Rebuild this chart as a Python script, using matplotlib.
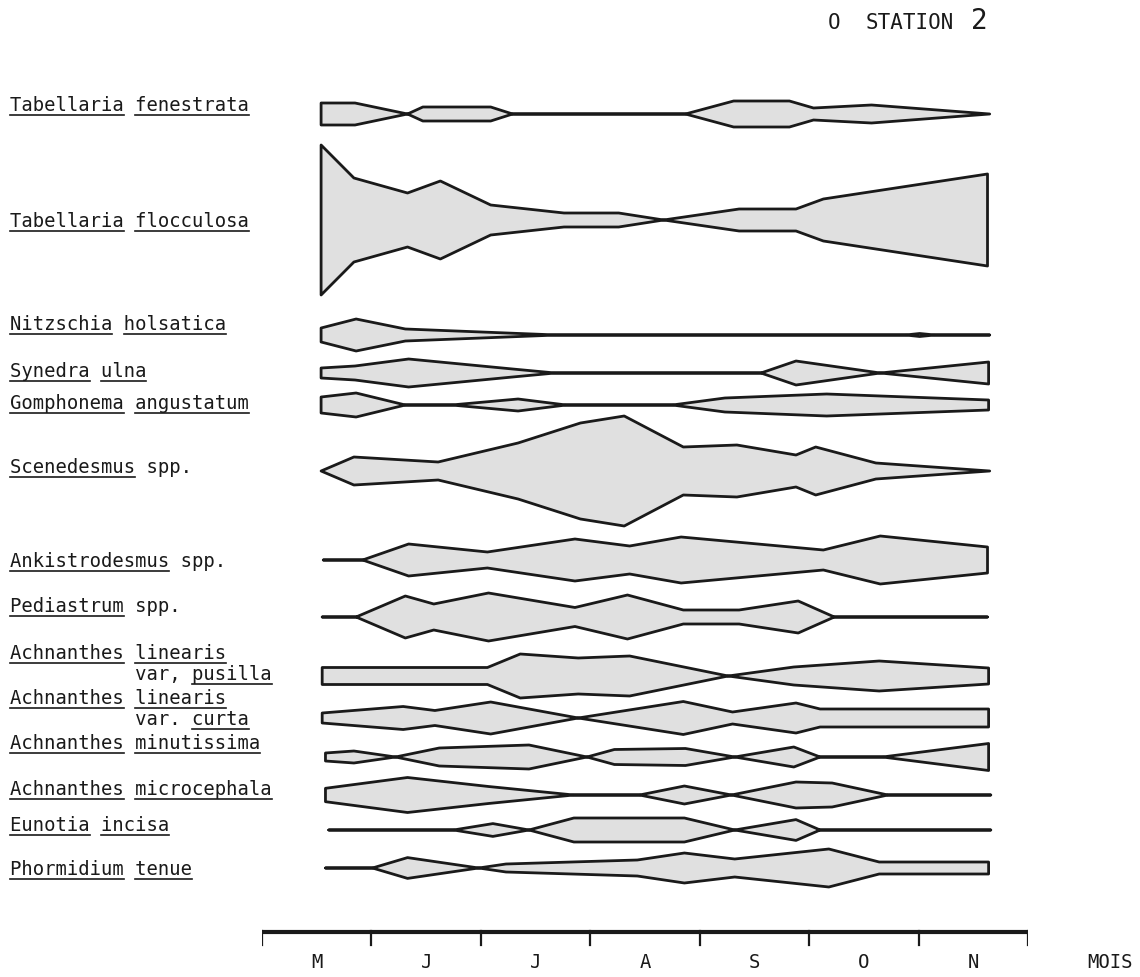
import matplotlib
matplotlib.use("Agg")
import matplotlib.pyplot as plt

# time axis: 0 = 1 May ... 7 = 1 December (months)
month_labels = ["M", "J", "J", "A", "S", "O", "N"]

# kite data: sampling positions (months) and half-widths (relative abundance)
fenestrata_x = [0.54, 0.85, 1.33, 1.47, 2.09, 2.29, 3.87, 4.31, 4.82, 5.04, 5.57, 6.65]
fenestrata_v = [11, 11, 0, 7, 7, 0, 0, 13, 13, 6, 9, 0]

flocculosa_x = [0.54, 0.84, 1.33, 1.63, 2.09, 2.76, 3.26, 3.67, 4.36, 4.88, 5.13, 6.63]
flocculosa_v = [75, 42, 27, 39, 15, 7, 7, 0, 11, 11, 21, 46]

nitzschia_x = [0.54, 0.86, 1.31, 2.70, 5.88, 6.01, 6.15, 6.65]
nitzschia_v = [7, 16, 6, 0, 0, 1.5, 0, 0]

synedra_x = [0.54, 0.85, 1.34, 2.29, 2.68, 4.56, 4.88, 5.65, 6.64]
synedra_v = [5, 7, 14, 4, 0, 0, 12, 0, 11]

gomphonema_x = [0.54, 0.86, 1.31, 1.73, 2.34, 2.78, 3.75, 4.23, 5.16, 6.64]
gomphonema_v = [8, 12, 0, 0, 6, 0, 0, 7, 11, 5]

scenedesmus_x = [0.54, 0.84, 1.61, 2.34, 2.91, 3.31, 3.85, 4.34, 4.88, 5.06, 5.61, 6.65]
scenedesmus_v = [0, 14, 9, 28, 48, 55, 24, 26, 16, 24, 8, 0]

ankistro_x = [0.56, 0.92, 1.34, 2.06, 2.86, 3.36, 3.83, 5.13, 5.65, 6.63]
ankistro_v = [0, 0, 16, 8, 21, 14, 23, 10, 24, 13]

pediastrum_x = [0.55, 0.86, 1.31, 1.57, 2.07, 2.86, 3.34, 3.85, 4.36, 4.90, 5.23, 6.63]
pediastrum_v = [0, 0, 21, 13, 24, 9.5, 22, 7, 7, 16, 0, 0]

pusilla_x = [0.55, 2.06, 2.36, 2.89, 3.36, 4.26, 4.86, 5.64, 6.64]
pusilla_v = [8.5, 8.5, 22, 18, 20, 0, 9, 15, 8]

curta_x = [0.55, 1.29, 1.58, 2.09, 2.89, 3.85, 4.30, 4.88, 5.10, 6.64]
curta_v = [5, 11.5, 7.5, 16, 0, 16.5, 6, 15, 9, 9]

minutissima_x = [0.58, 0.84, 1.22, 1.62, 2.44, 2.97, 3.22, 3.87, 4.32, 4.86, 5.10, 5.67, 6.64]
minutissima_v = [4, 6, 0, 9, 12, 0, 7.5, 8.5, 0, 10, 0, 0, 13.5]

microcephala_x = [0.58, 1.33, 2.07, 2.85, 3.45, 3.86, 4.29, 4.88, 5.21, 5.72, 6.66]
microcephala_v = [6.7, 17.5, 8.5, 0, 0, 9, 0, 13, 12, 0, 0]

eunotia_x = [0.61, 1.75, 2.11, 2.44, 2.85, 3.86, 4.32, 4.88, 5.10, 6.66]
eunotia_v = [0, 0, 6.4, 0, 12, 12, 0, 10.4, 0, 0]

phormidium_x = [0.58, 1.01, 1.33, 1.98, 2.23, 3.43, 3.86, 4.32, 5.18, 5.64, 6.64]
phormidium_v = [0, 0, 10.4, 0, 4, 8, 15, 9, 19, 6, 6]

labels = [
    ["Tabellaria fenestrata"],
    ["Tabellaria flocculosa"],
    ["Nitzschia holsatica"],
    ["Synedra ulna"],
    ["Gomphonema angustatum"],
    ["Scenedesmus spp."],
    ["Ankistrodesmus spp."],
    ["Pediastrum spp."],
    ["Achnanthes linearis", "           var, pusilla"],
    ["Achnanthes linearis", "           var. curta"],
    ["Achnanthes minutissima"],
    ["Achnanthes microcephala"],
    ["Eunotia incisa"],
    ["Phormidium tenue"],
]
series = [
    (fenestrata_x, fenestrata_v), (flocculosa_x, flocculosa_v),
    (nitzschia_x, nitzschia_v), (synedra_x, synedra_v),
    (gomphonema_x, gomphonema_v), (scenedesmus_x, scenedesmus_v),
    (ankistro_x, ankistro_v), (pediastrum_x, pediastrum_v),
    (pusilla_x, pusilla_v), (curta_x, curta_v),
    (minutissima_x, minutissima_v), (microcephala_x, microcephala_v),
    (eunotia_x, eunotia_v), (phormidium_x, phormidium_v),
]

# layout (pixels from top)
row_center = [114, 220, 335, 373, 405, 471, 560, 617, 676, 718, 757, 795, 830, 868]
label_base = [111, 227, 330, 377, 409, 473, 567, 612, 659, 704, 749, 795, 831, 875]
line_gap = 21

W, H = 1140, 977
mono = "DejaVu Sans Mono"
fs = 13.6
char_w = 0.6021 * fs * 100 / 72
ink = "#1a1a1a"

fig = plt.figure(figsize=(W / 100, H / 100), dpi=100)

# kites on a month axis placed over pixels 262..1028
ax = fig.add_axes([262 / W, 0, 766 / W, 1])
ax.set_xlim(0, 7)
ax.set_ylim(H, 0)
ax.axis("off")

for (xs, vs), c in zip(series, row_center):
    top = [c - v for v in vs]
    bot = [c + v for v in vs]
    ax.fill(xs + xs[::-1], top + bot[::-1], facecolor="#e0e0e0",
            edgecolor=ink, linewidth=2.0, joinstyle="round")

# time axis
ax.plot([0, 7], [932, 932], color=ink, lw=3, solid_capstyle="butt")
for i in range(8):
    ax.plot([i, i], [931, 945], color=ink, lw=1.6)
for i, m in enumerate(month_labels):
    ax.text(i + 0.5, 963, m, ha="center", va="center", family=mono, size=fs, color=ink)
ax.text((1110 - 262) / 109.43, 963, "MOIS", ha="center", va="center",
        family=mono, size=fs, color=ink)

# labels on a pixel overlay
lab = fig.add_axes([0, 0, 1, 1])
lab.set_xlim(0, W)
lab.set_ylim(H, 0)
lab.axis("off")
lab.patch.set_alpha(0)

for lines, base in zip(labels, label_base):
    for k, line in enumerate(lines):
        y = base + k * line_gap
        lab.text(10, y, line, family=mono, size=fs, color=ink, va="baseline", ha="left")
        col = 0
        for word in line.split(" "):
            if word and not word.startswith(("spp", "var")):
                x0 = 10 + col * char_w
                x1 = x0 + len(word) * char_w
                lab.plot([x0, x1], [y + 4, y + 4], color=ink, lw=1.2)
            col += len(word) + 1

lab.text(828, 29, "O", family=mono, size=15, color=ink, va="baseline")
lab.text(866, 29, "STATION", family=mono, size=15, color=ink, va="baseline")
lab.text(971, 29, "2", family=mono, size=20, color=ink, va="baseline")

fig.savefig("out.png", dpi=100, facecolor="white")
